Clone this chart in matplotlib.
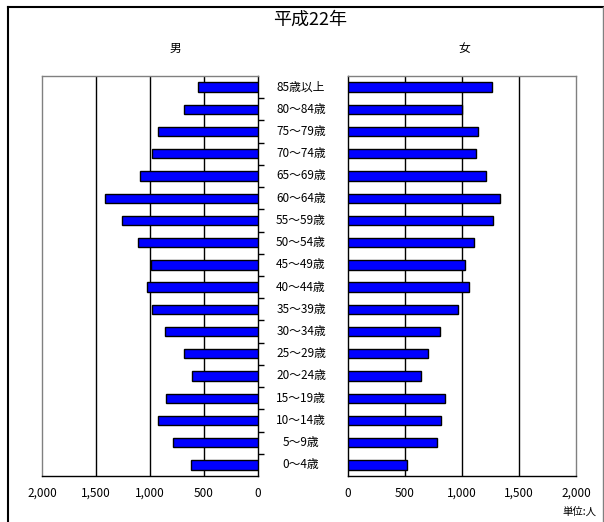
import matplotlib
matplotlib.use("Agg")
import matplotlib.pyplot as plt
from matplotlib.lines import Line2D
from matplotlib.ticker import FuncFormatter

plt.rcParams['font.family'] = ['Noto Sans CJK JP', 'DejaVu Sans']

title = "平成22年"
categories = ["85歳以上", "80～84歳", "75～79歳", "70～74歳", "65～69歳", "60～64歳",
              "55～59歳", "50～54歳", "45～49歳", "40～44歳", "35～39歳", "30～34歳",
              "25～29歳", "20～24歳", "15～19歳", "10～14歳", "5～9歳", "0～4歳"]
male = [556, 688, 926, 981, 1093, 1417, 1259, 1111, 993, 1031, 981, 864,
        688, 611, 848, 929, 790, 623]
female = [1267, 998, 1144, 1127, 1214, 1337, 1276, 1109, 1030, 1065, 969, 803,
          698, 636, 847, 820, 785, 514]
xticks = [0, 500, 1000, 1500, 2000]

W, H = 604, 522
fig = plt.figure(figsize=(W / 100, H / 100), dpi=100)

def fx(px):
    return px / W

def fy(py):
    return 1 - py / H

ax_top, ax_bot = 76, 476
axL = fig.add_axes([fx(42), fy(ax_bot), fx(258) - fx(42), (ax_bot - ax_top) / H])
axR = fig.add_axes([fx(348), fy(ax_bot), fx(576) - fx(348), (ax_bot - ax_top) / H])

n = len(categories)
ypos = list(range(n))
fmt = FuncFormatter(lambda v, p: f"{int(v):,}")

for ax, vals in ((axL, male), (axR, female)):
    ax.barh(ypos, vals, height=0.42, color="#0000FF", edgecolor="black",
            linewidth=1.0, zorder=3)
    ax.set_ylim(n - 0.5, -0.5)
    ax.set_xlim(0, 2000)
    ax.set_xticks(xticks)
    ax.xaxis.set_major_formatter(fmt)
    ax.tick_params(axis='x', length=0, labelsize=8.5, pad=8, colors='black')
    for g in (500, 1000, 1500):
        ax.axvline(g, color="black", linewidth=1.0, zorder=1)
    for s in ax.spines.values():
        s.set_linewidth(1.0)

axL.invert_xaxis()

# left panel spines
axL.spines['left'].set_color('#808080')
axL.spines['top'].set_color('#808080')
axL.spines['right'].set_color('black')
axL.spines['bottom'].set_color('black')
axL.yaxis.tick_right()
axL.set_yticks([k + 0.5 for k in range(n - 1)])
axL.set_yticklabels([])
axL.tick_params(axis='y', direction='out', length=4, width=1, color='black')

# right panel spines
axR.spines['left'].set_color('black')
axR.spines['bottom'].set_color('black')
axR.spines['top'].set_color('#808080')
axR.spines['right'].set_color('#808080')
axR.set_yticks([])

# category labels in the middle
for i, c in enumerate(categories):
    yy = axL.transData.transform((0, i))[1]
    fig.text(fx(301), yy / fig.dpi / fig.get_figheight(), c, ha='center', va='center',
             fontsize=8.5)

fig.text(fx(310), fy(20), title, ha='center', va='center', fontsize=13)
fig.text(fx(175), fy(48), "男", ha='center', va='center', fontsize=8.5)
fig.text(fx(464), fy(48), "女", ha='center', va='center', fontsize=8.5)
fig.text(fx(596), fy(512), "単位:人", ha='right', va='center', fontsize=7.5)

# outer frame
fig.add_artist(Line2D([fx(8), fx(8)], [fy(7), 0], transform=fig.transFigure,
                      color='black', linewidth=1.5))
fig.add_artist(Line2D([fx(8), fx(603)], [fy(7), fy(7)], transform=fig.transFigure,
                      color='black', linewidth=1.5))
fig.add_artist(Line2D([fx(603), fx(603)], [fy(7), 0], transform=fig.transFigure,
                      color='#808080', linewidth=1.0))

fig.savefig("out.png", dpi=100)
